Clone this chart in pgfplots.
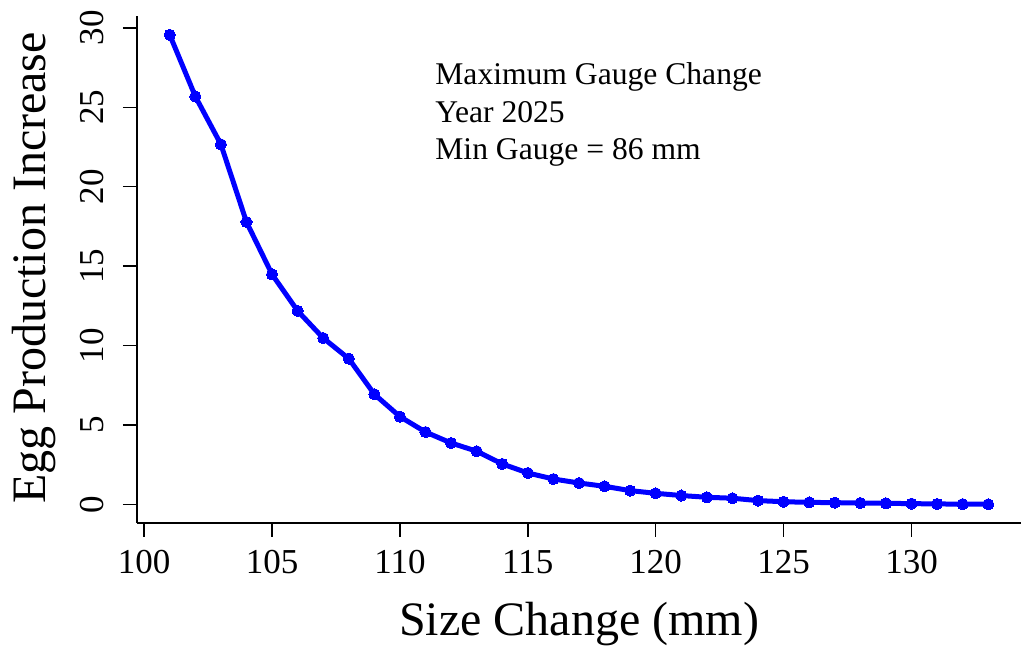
\documentclass[border=0pt]{standalone}
\usepackage{fontspec}
\setmainfont{Liberation Serif}
\usepackage{pgfplots}
\pgfplotsset{compat=1.18}

\pgfplotstableread{
size  egg
101   29.57
102   25.69
103   22.67
104   17.78
105   14.48
106   12.18
107   10.47
108   9.17
109   6.93
110   5.52
111   4.55
112   3.86
113   3.34
114   2.54
115   1.97
116   1.59
117   1.34
118   1.13
119   0.86
120   0.69
121   0.55
122   0.44
123   0.38
124   0.23
125   0.16
126   0.12
127   0.10
128   0.08
129   0.06
130   0.04
131   0.02
132   0.01
133   0.00
}\eggdata

\begin{document}
\begin{tikzpicture}[x=1pt,y=1pt]
\useasboundingbox (0,0) rectangle (511.5,324);
\begin{axis}[
  at={(68.5pt,62.5pt)}, anchor=south west,
  scale only axis, width=442pt, height=253.7pt,
  xmin=99.72, xmax=134.28, ymin=-1.18, ymax=30.78,
  axis x line*=bottom, axis y line*=left,
  axis line style={line width=0.75pt, black},
  tick style={line width=0.75pt, black},
  major tick length=7pt, tick align=outside,
  xtick={100,105,...,130}, ytick={0,5,...,30},
  /pgf/number format/assume math mode=true,
  tick label style={font=\fontsize{17.5}{20}\selectfont},
  yticklabel style={rotate=90, anchor=south},
  xticklabel shift=3pt, yticklabel shift=6pt,
  clip=false,
]
\addplot[blue, line width=2.5pt, mark=*, mark size=2.8pt,
  mark options={fill=blue, draw=blue, line width=0pt}] table[x=size, y=egg] {\eggdata};
\end{axis}
\node[anchor=base] at (289.5,6) {\fontsize{24}{28}\selectfont Size Change (mm)};
\node[anchor=base, rotate=90] at (22.5,190) {\fontsize{24}{28}\selectfont Egg Production Increase};
\node[anchor=base west, inner sep=0pt] at (217.5,281.5) {\fontsize{15.8}{18.75}\selectfont Maximum Gauge Change};
\node[anchor=base west, inner sep=0pt] at (217.5,262.75) {\fontsize{15.8}{18.75}\selectfont Year 2025};
\node[anchor=base west, inner sep=0pt] at (217.5,244) {\fontsize{15.8}{18.75}\selectfont Min Gauge = 86 mm};
\end{tikzpicture}
\end{document}
